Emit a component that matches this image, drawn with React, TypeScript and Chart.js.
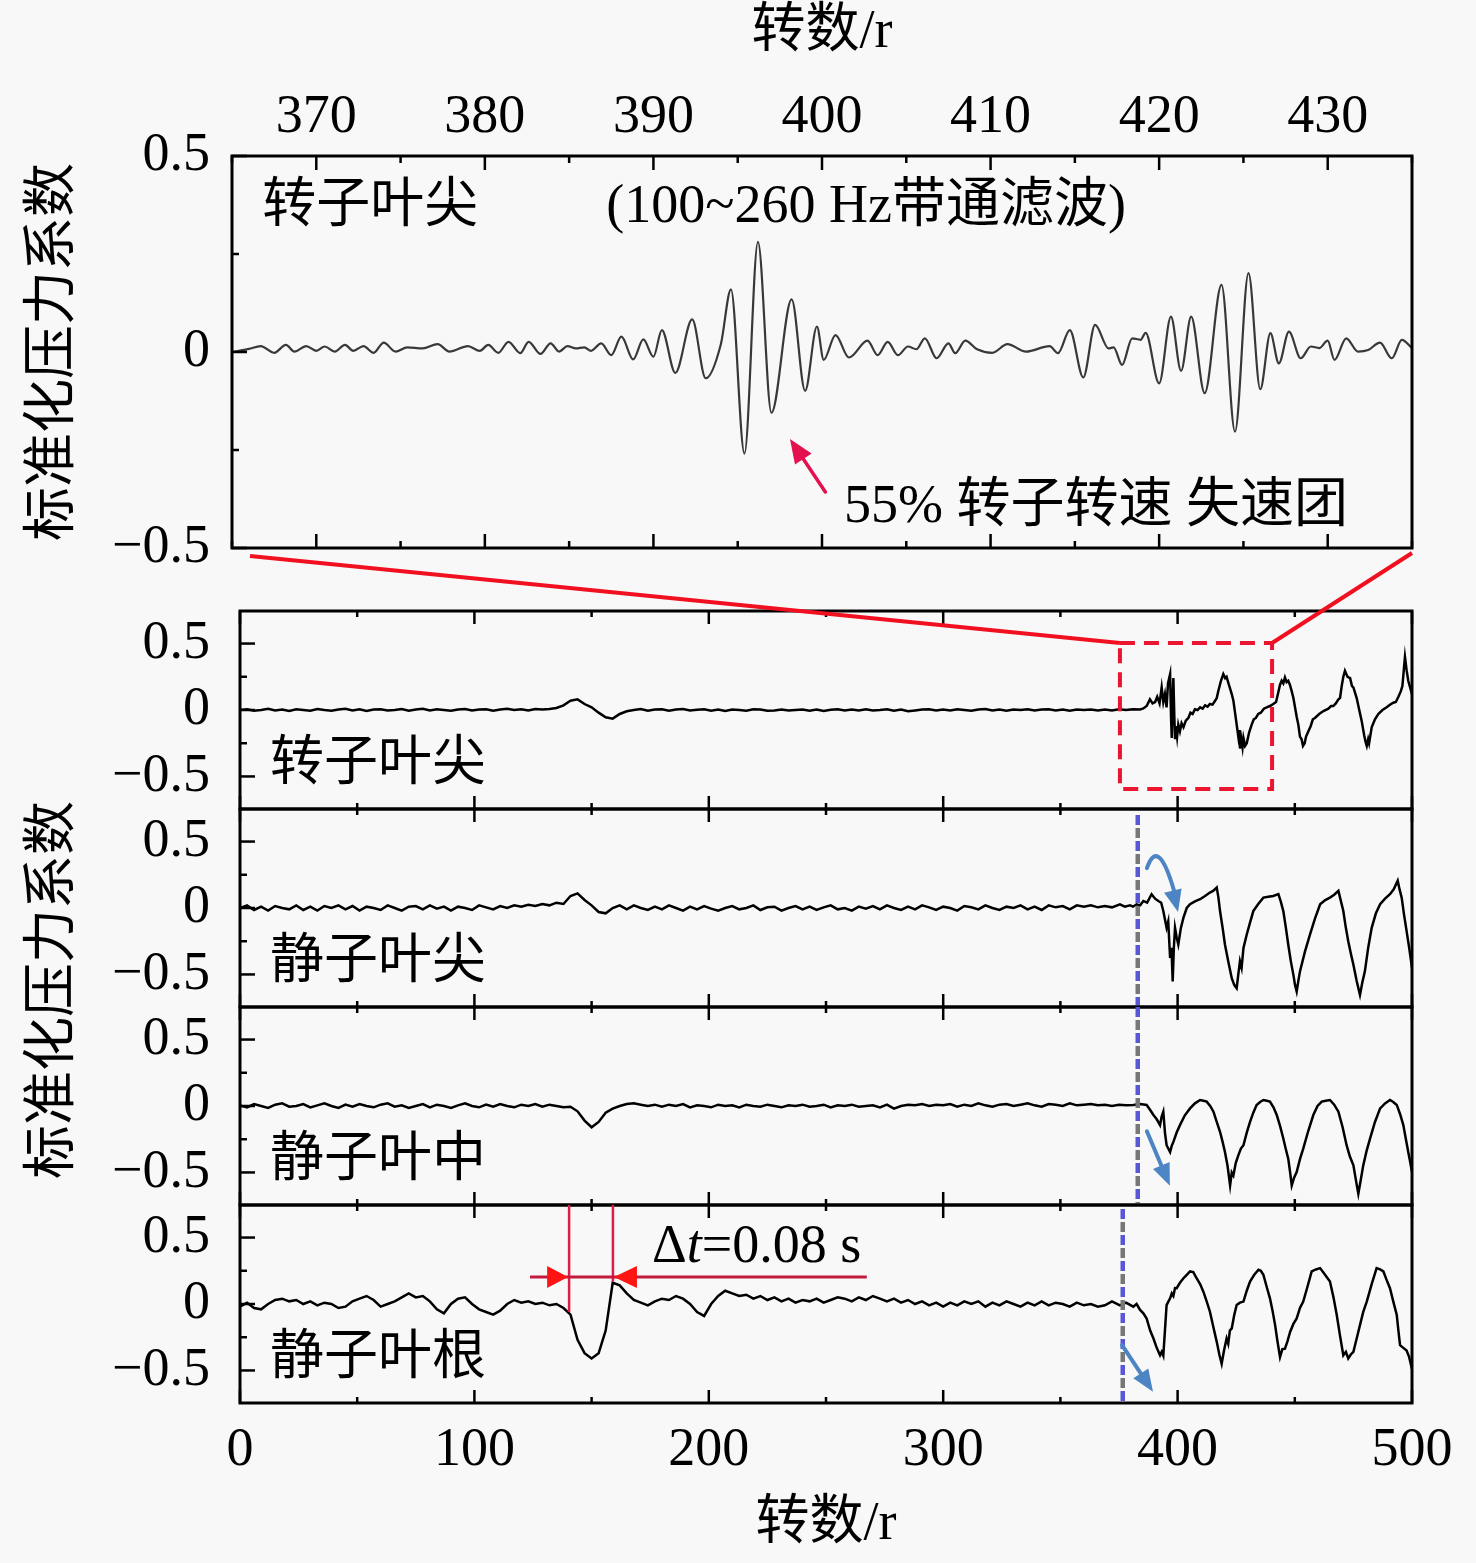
import React, { useEffect, useRef } from 'react';
import { Chart, registerables } from 'chart.js';

Chart.register(...registerables);

const FONT = '"Liberation Serif", "Noto Sans CJK SC", serif';
const FS = 54;
const BG = '#f8f8f8';

// ---------- axis ticks ----------
const TOP_X_TICKS = [370, 380, 390, 400, 410, 420, 430];
const TOP_X_MINOR = [365, 375, 385, 395, 405, 415, 425, 435];
const Y_TICKS = [-0.5, 0, 0.5];
const Y_MINOR = [-0.25, 0.25];
const BOT_X_TICKS = [0, 100, 200, 300, 400, 500];
const BOT_X_MINOR = [50, 150, 250, 350, 450];

// ---------- labels ----------
const AXIS_TITLE_X = '转数/r';
const AXIS_TITLE_Y = '标准化压力系数';
const PANEL_LABELS = ['转子叶尖', '静子叶尖', '静子叶中', '静子叶根'];
const TOP_NOTE_LEFT = '转子叶尖';
const TOP_NOTE_FILTER = '(100~260 Hz带通滤波)';
const TOP_NOTE_STALL = '55% 转子转速 失速团';

// ---------- top panel: 100~260 Hz band-pass filtered rotor-tip signal (x = revolutions) ----------
const TOP_CURVE: [number, number][] = [
  [365.0, 0.0], [366.0, 0.008], [366.7, 0.015], [367.5, -0.002], [368.2, 0.018], [368.7, 0.001],
  [369.4, 0.015], [370.0, 0.003], [370.5, 0.014], [371.1, 0.001], [371.7, 0.018], [372.2, 0.003],
  [372.8, 0.015], [373.4, -0.002], [374.0, 0.024], [374.7, 0.001], [375.4, 0.012], [376.3, 0.009],
  [377.2, 0.02], [377.9, 0.001], [379.0, 0.015], [379.7, 0.003], [380.2, 0.018], [380.8, -0.002],
  [381.4, 0.026], [382.1, -0.003], [382.6, 0.026], [383.3, -0.005], [383.9, 0.022], [384.4, 0.001],
  [384.9, 0.015], [385.4, 0.009], [385.9, 0.012], [386.3, 0.003], [386.9, 0.022], [387.5, -0.008],
  [388.1, 0.039], [388.8, -0.019], [389.4, 0.032], [390.0, -0.012], [390.5, 0.056], [391.3, -0.053],
  [392.3, 0.083], [393.1, -0.067], [394.0, 0.02], [394.6, 0.16], [395.4, -0.259], [396.2, 0.281],
  [397.0, -0.155], [398.2, 0.134], [399.0, -0.099], [399.7, 0.065], [400.1, -0.02], [400.8, 0.043],
  [401.6, -0.014], [402.7, 0.029], [403.3, -0.008], [403.9, 0.026], [404.5, -0.008], [405.1, 0.014],
  [405.6, 0.007], [406.1, 0.035], [406.8, -0.016], [407.5, 0.022], [407.9, -0.003], [408.5, 0.029],
  [409.2, 0.007], [410.1, -0.002], [411.0, 0.02], [412.1, 0.001], [413.5, 0.015], [414.0, -0.003],
  [414.7, 0.056], [415.5, -0.065], [416.2, 0.069], [417.0, 0.009], [417.3, 0.012], [417.8, -0.033],
  [418.4, 0.035], [418.9, 0.031], [419.2, 0.049], [420.0, -0.08], [420.7, 0.09], [421.3, -0.048],
  [421.9, 0.09], [422.7, -0.105], [423.7, 0.171], [424.5, -0.203], [425.3, 0.201], [426.0, -0.095],
  [426.6, 0.048], [427.1, -0.029], [427.7, 0.052], [428.4, -0.016], [429.0, 0.014], [429.5, 0.01],
  [430.0, 0.029], [430.4, -0.02], [431.1, 0.035], [431.8, 0.001], [432.4, 0.005], [433.1, 0.024],
  [433.8, -0.016], [434.4, 0.031], [435.0, 0.01],
];

// ---------- bottom panels: pre-stall part sampled every FLAT_STEP revolutions from 0 ----------
const FLAT_STEP = 3;

const ROTOR_TIP_FLAT = [
  0.0, 0.006, -0.006, 0.0, 0.01, -0.004, 0.003, -0.008, 0.005, 0.0,
  -0.005, 0.008, 0.0, -0.006, 0.004, 0.01, -0.003, 0.005, -0.008, 0.003,
  0.006, -0.004, 0.0, 0.008, -0.005, 0.004, 0.009, -0.003, 0.005, 0.0,
  -0.006, 0.004, 0.008, -0.004, 0.003, 0.006, -0.005, 0.004, 0.01, 0.0,
  0.005, -0.004, 0.007, 0.003, 0.008, 0.015, 0.035, 0.07, 0.08, 0.045,
  0.02, -0.02, -0.055, -0.065, -0.03, -0.01, 0.0, 0.007, -0.005, 0.004,
  0.005, -0.006, 0.003, 0.008, -0.004, 0.002, 0.006, -0.005, 0.003, -0.008,
  0.004, 0.0, -0.005, 0.005, 0.003, -0.006, -0.003, 0.004, -0.004, 0.0,
  0.003, -0.005, 0.004, -0.008, 0.002, 0.005, -0.004, 0.003, -0.003, 0.005,
  -0.004, 0.0, 0.006, -0.005, 0.003, -0.01, -0.004, 0.003, 0.005, -0.004,
  0.004, -0.003, 0.006, 0.0, -0.005, 0.004, 0.008, -0.003, 0.003, -0.005,
  0.004, 0.0, 0.005, -0.004, 0.003, 0.006, -0.003, 0.004, -0.005, 0.003,
  0.0, 0.004, -0.003,
];
const ROTOR_TIP_STALL: [number, number][] = [
  [369, 0.004], [372, -0.003], [375, 0.005], [378, 0.0], [381, 0.006], [384, 0.004], [385.4, 0.012],
  [386.8, 0.03], [388.2, 0.08], [389.3, 0.05], [390.4, 0.06], [391.3, 0.1], [392.3, 0.05], [393.2, 0.17],
  [393.9, 0.06], [394.6, 0.12], [395.3, 0.02], [395.9, 0.2], [396.8, 0.27], [397.2, -0.05], [397.5, -0.21],
  [397.9, 0.1], [398.2, 0.24], [398.6, -0.05], [398.9, -0.21], [399.3, -0.12], [399.8, -0.2], [400.3, -0.11],
  [401, -0.16], [401.7, -0.1], [402.5, -0.13], [403.5, -0.08], [404.6, -0.06], [405.5, -0.02], [406.4, -0.03],
  [407.4, 0.005], [408.5, 0.0], [409.6, 0.02], [410.7, 0.01], [411.7, 0.035], [412.8, 0.025], [413.8, 0.045],
  [414.9, 0.04], [416, 0.07], [416.7, 0.09], [417.4, 0.145], [418.5, 0.22], [419.5, 0.27], [420.3, 0.24],
  [420.9, 0.25], [421.7, 0.2], [422.4, 0.16], [423.1, 0.12], [423.8, 0.07], [424.5, -0.02], [425.2, -0.11],
  [425.9, -0.2], [426.3, -0.15], [426.6, -0.29], [427.2, -0.22], [427.7, -0.28], [428.1, -0.21], [428.8, -0.27],
  [429.5, -0.25], [430.5, -0.17], [431.6, -0.11], [432.5, -0.07], [433.4, -0.06], [434.4, -0.03], [435.5, -0.02],
  [436.8, 0.01], [438, 0.02], [439.4, 0.03], [440.8, 0.045], [442, 0.06], [442.8, 0.12], [443.7, 0.19],
  [444.4, 0.22], [445.1, 0.2], [445.8, 0.245], [446.5, 0.21], [447.2, 0.22], [447.9, 0.19], [448.7, 0.14],
  [449.4, 0.09], [450.1, 0.02], [450.8, -0.05], [451.5, -0.11], [452.2, -0.2], [452.9, -0.22], [453.5, -0.27],
  [454.2, -0.25], [454.8, -0.2], [455.8, -0.16], [456.8, -0.12], [457.7, -0.07], [458.6, -0.06], [460.4, -0.03],
  [462.2, -0.008], [464.3, 0.01], [465.5, 0.03], [466.4, 0.03], [467.5, 0.05], [468.6, 0.08], [469.3, 0.09],
  [470, 0.18], [470.7, 0.25], [471.4, 0.295], [472, 0.27], [472.5, 0.25], [473.6, 0.24], [474.4, 0.18],
  [475, 0.17], [476.4, 0.09], [477.5, 0.0], [478.5, -0.08], [479.6, -0.19], [480.2, -0.24], [480.7, -0.27],
  [481.3, -0.22], [481.7, -0.25], [482.8, -0.13], [484.2, -0.07], [485.6, -0.03], [487.4, 0.0], [489.2, 0.02],
  [490.6, 0.04], [492, 0.055], [493.1, 0.06], [494.2, 0.1], [495.2, 0.14], [495.9, 0.18], [496.5, 0.3],
  [497, 0.4], [497.7, 0.3], [498.4, 0.22], [499.2, 0.17], [500, 0.12],
];

const STATOR_TIP_FLAT = [
  0.0, 0.02, -0.015, 0.01, -0.02, 0.015, 0.0, -0.01, 0.02, -0.015,
  0.01, -0.02, 0.015, 0.0, 0.02, -0.01, 0.015, -0.02, 0.01, 0.0,
  -0.015, 0.02, 0.0, -0.02, 0.01, 0.015, -0.01, 0.02, -0.005, 0.01,
  -0.02, 0.01, 0.0, -0.015, 0.02, 0.005, -0.01, 0.015, 0.0, 0.02,
  0.01, 0.025, 0.015, 0.03, 0.02, 0.04, 0.03, 0.09, 0.11, 0.06,
  0.02, -0.03, -0.04, 0.0, 0.02, -0.01, 0.02, 0.0, -0.015, 0.01,
  -0.01, 0.02, 0.0, -0.02, 0.01, -0.01, 0.015, -0.005, -0.02, 0.0,
  0.015, -0.01, 0.0, 0.02, -0.015, 0.005, 0.01, -0.02, 0.0, 0.015,
  -0.01, 0.01, -0.015, 0.005, 0.02, -0.01, 0.0, -0.02, 0.01, -0.005,
  0.015, -0.01, 0.02, 0.0, -0.015, 0.01, -0.01, 0.02, 0.005, -0.015,
  0.01, 0.0, -0.02, 0.015, 0.005, -0.01, 0.02, 0.0, -0.015, 0.01,
  0.0, 0.02, -0.01, 0.01, -0.015, 0.02, 0.005, 0.015, -0.01, 0.02,
  0.01, 0.02, 0.005,
];
const STATOR_TIP_STALL: [number, number][] = [
  [369, 0.015], [372, 0.005], [375.4, 0.028], [377.5, 0.01], [379.7, 0.02], [381, 0.01], [382.5, 0.028],
  [384, 0.02], [385.4, 0.053], [387, 0.04], [388.9, 0.104], [390.4, 0.07], [391.8, 0.053], [393, 0.04],
  [393.9, -0.023], [395.3, -0.149], [396, -0.1], [396.8, -0.376], [397.4, -0.3], [397.9, -0.553], [398.4, -0.3],
  [398.9, -0.149], [399.6, -0.22], [400.3, -0.275], [401.4, -0.15], [402.5, -0.073], [403.9, 0.0], [405.3, 0.028],
  [407.4, 0.05], [409.6, 0.066], [411.7, 0.09], [413.8, 0.116], [415.3, 0.13], [416.7, 0.154], [417.4, 0.08],
  [418.1, -0.023], [419.2, -0.15], [420.2, -0.275], [421.6, -0.4], [423.1, -0.528], [424.2, -0.58], [425.2, -0.604],
  [425.9, -0.5], [426.6, -0.401], [427.3, -0.45], [428.1, -0.3], [429.5, -0.199], [430.9, -0.11], [432.3, -0.023],
  [434.4, 0.03], [436.6, 0.078], [438.7, 0.085], [440.8, 0.091], [443, 0.104], [444, 0.05], [445.1, -0.023],
  [446.2, -0.15], [447.2, -0.275], [448.3, -0.4], [449.4, -0.503], [450.1, -0.58], [450.8, -0.629], [451.5, -0.55],
  [452.2, -0.477], [454.3, -0.33], [456.5, -0.199], [458.6, -0.08], [460.8, 0.028], [463, 0.06], [465, 0.078],
  [466.8, 0.1], [468.6, 0.129], [469.7, 0.05], [470.7, -0.023], [471.7, -0.14], [472.8, -0.25], [474, -0.35],
  [475, -0.427], [476.4, -0.55], [477.8, -0.654], [478.8, -0.56], [479.9, -0.477], [481.3, -0.3], [482.8, -0.149],
  [484.6, -0.04], [486.4, 0.028], [488.5, 0.07], [490.6, 0.104], [492.2, 0.14], [493.9, 0.205], [494.7, 0.14],
  [495.6, 0.078], [496.6, -0.05], [497.7, -0.174], [498.8, -0.3], [500, -0.45],
];

const STATOR_MID_FLAT = [
  0.005, -0.01, 0.015, 0.0, -0.015, 0.01, 0.02, -0.005, 0.0, 0.015,
  -0.01, 0.005, 0.02, 0.0, -0.015, 0.01, -0.005, 0.015, 0.0, -0.01,
  0.01, 0.02, -0.005, 0.005, -0.015, 0.0, 0.015, -0.01, 0.01, 0.0,
  -0.015, 0.005, 0.02, 0.0, -0.01, 0.01, -0.005, 0.015, 0.0, -0.01,
  0.01, 0.0, 0.015, -0.005, 0.01, 0.0, -0.01, -0.005, -0.04, -0.11,
  -0.16, -0.12, -0.05, -0.02, 0.0, 0.015, 0.02, 0.01, 0.0, 0.01,
  -0.005, 0.01, 0.0, 0.015, -0.01, 0.005, 0.0, -0.01, 0.01, 0.0,
  0.005, -0.01, 0.01, 0.0, -0.005, 0.01, 0.0, -0.01, 0.005, 0.0,
  0.01, -0.005, 0.0, 0.01, -0.01, 0.005, 0.0, 0.01, -0.005, 0.0,
  0.005, -0.01, 0.01, -0.02, 0.0, 0.01, 0.005, 0.015, 0.0, 0.01,
  0.005, 0.015, -0.005, 0.01, 0.0, 0.02, 0.005, -0.005, 0.01, 0.015,
  0.0, 0.01, 0.02, 0.005, -0.005, 0.015, 0.01, 0.0, 0.02, 0.005,
  0.01, 0.015, 0.005,
];
const STATOR_MID_STALL: [number, number][] = [
  [369, 0.01], [372, 0.0], [375, 0.01], [378, 0.005], [381.1, 0.008], [384, 0.015], [386.8, 0.008],
  [388.3, -0.03], [389.7, -0.068], [391.1, -0.1], [392.5, -0.144], [393.2, -0.08], [393.9, -0.043], [394.6, -0.2],
  [395.3, -0.295], [396.8, -0.346], [397.5, -0.3], [398.2, -0.27], [399.6, -0.2], [401, -0.144], [403.1, -0.07],
  [405.3, -0.018], [407.4, 0.02], [409.6, 0.045], [411, 0.04], [412.4, 0.033], [413.9, 0.0], [415.3, -0.043],
  [416.7, -0.12], [418.1, -0.194], [419.2, -0.27], [420.2, -0.346], [421.3, -0.45], [422.4, -0.598], [423.1, -0.5],
  [423.8, -0.523], [424.8, -0.43], [425.9, -0.371], [427, -0.32], [428.1, -0.295], [429.5, -0.2], [430.9, -0.119],
  [432.3, -0.05], [433.7, 0.008], [435.2, 0.03], [436.6, 0.045], [438, 0.04], [439.4, 0.033], [440.9, -0.01],
  [442.3, -0.068], [443.7, -0.15], [445.1, -0.245], [446.1, -0.32], [447.2, -0.396], [448, -0.5], [448.7, -0.598],
  [449.7, -0.54], [450.8, -0.497], [452.2, -0.4], [453.6, -0.321], [455.7, -0.19], [457.9, -0.068], [459.7, 0.0],
  [461.5, 0.033], [463.2, 0.04], [465, 0.045], [466.8, 0.01], [468.6, -0.043], [470.4, -0.16], [472.1, -0.295],
  [473.5, -0.38], [475, -0.447], [476, -0.55], [477.1, -0.66], [478.1, -0.56], [479.2, -0.447], [480.6, -0.34],
  [482.1, -0.245], [484.2, -0.12], [486.4, -0.018], [488.5, 0.02], [490.6, 0.045], [492, 0.03], [493.5, 0.008],
  [494.9, -0.06], [496.3, -0.144], [497.4, -0.25], [498.4, -0.346], [499.2, -0.42], [500, -0.497],
];

const STATOR_ROOT_FLAT = [
  -0.02, 0.01, -0.03, -0.04, 0.0, 0.03, 0.04, 0.02, 0.03, 0.0,
  0.02, -0.01, 0.01, 0.0, -0.03, -0.02, 0.02, 0.04, 0.06, 0.03,
  -0.02, 0.0, 0.02, 0.05, 0.08, 0.05, 0.06, 0.02, -0.04, -0.07,
  0.0, 0.04, 0.05, 0.0, -0.04, -0.06, -0.08, -0.05, 0.0, 0.03,
  0.01, 0.02, 0.0, 0.01, -0.01, 0.0, -0.03, -0.08, -0.27, -0.37,
  -0.41, -0.37, -0.2, 0.16, 0.14, 0.08, 0.03, 0.01, -0.01, 0.02,
  0.04, 0.03, 0.06, 0.04, 0.0, -0.06, -0.09, 0.0, 0.06, 0.1,
  0.08, 0.06, 0.07, 0.04, 0.06, 0.03, 0.05, 0.02, 0.04, 0.01,
  0.03, 0.02, 0.04, 0.01, 0.03, 0.05, 0.04, 0.02, 0.05, 0.03,
  0.06, 0.04, 0.02, 0.04, 0.01, 0.03, 0.0, 0.02, -0.01, 0.01,
  -0.02, 0.01, -0.01, 0.02, 0.0, 0.02, -0.02, 0.01, -0.01, 0.02,
  0.0, -0.02, 0.01, -0.01, 0.02, -0.01, 0.01, 0.0, -0.02, 0.01,
  -0.01, 0.0, -0.02,
];
const STATOR_ROOT_STALL: [number, number][] = [
  [369, -0.01], [372, 0.02], [375.4, -0.01], [378, 0.01], [381.1, -0.02], [382.5, 0.0], [384, -0.045],
  [385.4, -0.07], [386.8, -0.11], [388.3, -0.2], [389.7, -0.26], [391.1, -0.33], [392.5, -0.386], [393.2, -0.36],
  [393.9, -0.39], [394.6, -0.2], [395.3, -0.008], [396.1, 0.02], [396.8, 0.043], [397.5, 0.08], [398.2, 0.06],
  [398.9, 0.12], [399.6, 0.119], [401, 0.16], [402.5, 0.194], [403.9, 0.22], [405.3, 0.245], [406.7, 0.24],
  [408.1, 0.194], [409.6, 0.15], [411, 0.093], [412.4, 0.02], [413.8, -0.058], [415.2, -0.17], [416.7, -0.285],
  [417.8, -0.38], [418.8, -0.45], [419.8, -0.35], [420.9, -0.26], [421.6, -0.3], [422.3, -0.2], [423.1, -0.184],
  [424.2, -0.08], [425.2, -0.008], [426.6, 0.01], [428.1, 0.018], [429.5, 0.1], [430.9, 0.169], [432.7, 0.22],
  [434.5, 0.258], [435.5, 0.25], [436.6, 0.22], [438, 0.13], [439.4, 0.043], [440.5, -0.05], [441.6, -0.159],
  [442.6, -0.28], [443.7, -0.4], [444.7, -0.34], [445.8, -0.336], [446.9, -0.28], [448, -0.21], [449.4, -0.15],
  [450.8, -0.109], [452.2, -0.03], [453.6, 0.018], [455.4, 0.13], [457.2, 0.245], [459, 0.26], [460.8, 0.27],
  [462.9, 0.22], [465, 0.169], [466.5, 0.05], [467.9, -0.083], [469.3, -0.24], [470.7, -0.386], [471.8, -0.36],
  [472.8, -0.41], [473.9, -0.38], [475, -0.36], [476.4, -0.26], [477.8, -0.159], [479.2, -0.06], [480.7, 0.018],
  [482.8, 0.15], [484.9, 0.27], [486.4, 0.26], [487.8, 0.245], [489.2, 0.18], [490.6, 0.119], [492, 0.02],
  [493.5, -0.083], [494.2, -0.2], [494.9, -0.31], [496.3, -0.33], [497.7, -0.35], [498.8, -0.4], [500, -0.49],
];

// ---------- annotation anchors (data coordinates) ----------
const ZOOM_WINDOW_X = [375.4, 440.3];
const ZOOM_WINDOW_Y = [-0.595, 0.504];
const STALL_LINE_MID = 383.0;
const STALL_LINE_ROOT = 376.6;
const DT_LINES = [140.4, 159.1];

// ---------- layout ----------
const W = 1476;
const H = 1563;
const TOP_BOX = { top: 0, height: 570 };
const PANEL_BOXES = [
  { top: 598, height: 224 },
  { top: 796, height: 224 },
  { top: 994, height: 224 },
  { top: 1192, height: 371 },
];

function buildPoints(flat: number[], stall: [number, number][]) {
  return [
    ...flat.map((y, i) => ({ x: i * FLAT_STEP, y })),
    ...stall.map(([x, y]) => ({ x, y })),
  ];
}

const fmtY = (v: number) => (v === 0 ? '0' : v < 0 ? '\u2212' + Math.abs(v) : String(v));

const noPad = (s: any) => {
  s.paddingTop = 0;
  s.paddingBottom = 0;
  s.paddingLeft = 0;
  s.paddingRight = 0;
};

function drawArrowHead(ctx: CanvasRenderingContext2D, x: number, y: number, angle: number, len: number, width: number, color: string) {
  ctx.save();
  ctx.translate(x, y);
  ctx.rotate(angle);
  ctx.beginPath();
  ctx.moveTo(0, 0);
  ctx.lineTo(-len, width / 2);
  ctx.lineTo(-len, -width / 2);
  ctx.closePath();
  ctx.fillStyle = color;
  ctx.fill();
  ctx.restore();
}

function straightArrow(ctx: CanvasRenderingContext2D, x1: number, y1: number, x2: number, y2: number, color: string, lw: number, hl: number, hw: number) {
  const ang = Math.atan2(y2 - y1, x2 - x1);
  ctx.save();
  ctx.strokeStyle = color;
  ctx.lineWidth = lw;
  ctx.lineCap = 'round';
  ctx.beginPath();
  ctx.moveTo(x1, y1);
  ctx.lineTo(x2 - Math.cos(ang) * hl * 0.8, y2 - Math.sin(ang) * hl * 0.8);
  ctx.stroke();
  ctx.restore();
  drawArrowHead(ctx, x2, y2, ang, hl, hw, color);
}

function frameTicks(xMajor: number[], xMinor: number[], xMajLen: number, xMinLen: number) {
  return {
    id: 'frameTicks',
    afterDatasetsDraw(chart: any) {
      const { ctx, chartArea: a, scales } = chart;
      const xs = scales.x;
      const ys = scales.y;
      ctx.save();
      ctx.strokeStyle = '#000';
      ctx.lineWidth = 2.5;
      const seg = (x1: number, y1: number, x2: number, y2: number) => {
        ctx.beginPath();
        ctx.moveTo(x1, y1);
        ctx.lineTo(x2, y2);
        ctx.stroke();
      };
      xMajor.forEach((v) => {
        const p = xs.getPixelForValue(v);
        seg(p, a.top, p, a.top + xMajLen);
        seg(p, a.bottom, p, a.bottom - xMajLen);
      });
      xMinor.forEach((v) => {
        const p = xs.getPixelForValue(v);
        seg(p, a.top, p, a.top + xMinLen);
        seg(p, a.bottom, p, a.bottom - xMinLen);
      });
      Y_TICKS.forEach((v) => {
        const p = ys.getPixelForValue(v);
        seg(a.left, p, a.left + 15, p);
      });
      Y_MINOR.forEach((v) => {
        const p = ys.getPixelForValue(v);
        seg(a.left, p, a.left + 7, p);
      });
      ctx.lineWidth = 3;
      ctx.strokeRect(a.left, a.top, a.right - a.left, a.bottom - a.top);
      ctx.restore();
    },
  };
}

function dashedStall(ctx: CanvasRenderingContext2D, x: number, y1: number, y2: number) {
  ctx.save();
  ctx.lineWidth = 4.5;
  ctx.setLineDash([10, 16]);
  ctx.strokeStyle = '#5858d6';
  ctx.beginPath();
  ctx.moveTo(x, y1);
  ctx.lineTo(x, y2);
  ctx.stroke();
  ctx.lineDashOffset = 13;
  ctx.strokeStyle = '#777777';
  ctx.beginPath();
  ctx.moveTo(x, y1);
  ctx.lineTo(x, y2);
  ctx.stroke();
  ctx.restore();
}

const ARROW_BLUE = '#4d84c4';

export default function App() {
  const topRef = useRef<HTMLCanvasElement>(null);
  const p1Ref = useRef<HTMLCanvasElement>(null);
  const p2Ref = useRef<HTMLCanvasElement>(null);
  const p3Ref = useRef<HTMLCanvasElement>(null);
  const p4Ref = useRef<HTMLCanvasElement>(null);
  const ovRef = useRef<HTMLCanvasElement>(null);

  useEffect(() => {
    const charts: Chart[] = [];
    const font = { family: FONT, size: FS };

    const yScale = (width: number, pad: number, min: number, max: number, title: boolean) => ({
      type: 'linear',
      position: 'left',
      min,
      max,
      afterBuildTicks: (s: any) => {
        s.ticks = Y_TICKS.map((v) => ({ value: v }));
      },
      afterFit: (s: any) => {
        s.width = width;
        noPad(s);
      },
      grid: { display: false, drawTicks: false },
      border: { display: false },
      ticks: { font, color: '#000', padding: pad, callback: (v: any) => fmtY(Number(v)) },
      title: {
        display: title,
        text: AXIS_TITLE_Y,
        font,
        color: '#000',
        padding: { top: 22, bottom: 0 },
      },
    });

    const baseOpts = (padding: any, scales: any) => ({
      animation: false,
      responsive: false,
      events: [],
      layout: { padding, autoPadding: false },
      plugins: { legend: { display: false }, tooltip: { enabled: false } },
      elements: { point: { radius: 0 } },
      scales,
    });

    // ---------- top panel ----------
    const topPlugin = {
      id: 'topDeco',
      afterDatasetsDraw(chart: any) {
        const { ctx, scales } = chart;
        const xs = scales.x;
        const ys = scales.y;
        ctx.save();
        ctx.font = `${FS}px ${FONT}`;
        ctx.fillStyle = '#000';
        ctx.textBaseline = 'middle';
        ctx.textAlign = 'left';
        ctx.fillText(TOP_NOTE_LEFT, xs.getPixelForValue(366.8), ys.getPixelForValue(0.367));
        ctx.fillText(TOP_NOTE_FILTER, xs.getPixelForValue(387.2), ys.getPixelForValue(0.367));
        ctx.fillText(TOP_NOTE_STALL, xs.getPixelForValue(401.3), ys.getPixelForValue(-0.398));
        straightArrow(
          ctx,
          xs.getPixelForValue(400.2), ys.getPixelForValue(-0.357),
          xs.getPixelForValue(398.1), ys.getPixelForValue(-0.222),
          '#e3124f', 3.5, 24, 20,
        );
        ctx.restore();
      },
    };
    charts.push(
      new Chart(topRef.current!, {
        type: 'line',
        data: {
          datasets: [
            {
              data: TOP_CURVE.map(([x, y]) => ({ x, y })),
              borderColor: '#383838',
              borderWidth: 2.2,
              pointRadius: 0,
              fill: false,
              tension: 0.4,
              cubicInterpolationMode: 'monotone',
            },
          ],
        },
        options: baseOpts(
          { left: 0, right: W - 1412, top: 0, bottom: TOP_BOX.height - 548 },
          {
            x: {
              type: 'linear',
              position: 'top',
              min: 365,
              max: 435,
              afterBuildTicks: (s: any) => {
                s.ticks = TOP_X_TICKS.map((v) => ({ value: v }));
              },
              afterFit: (s: any) => {
                s.height = 156;
                noPad(s);
              },
              grid: { display: false, drawTicks: false },
              border: { display: false },
              ticks: { font, color: '#000', padding: 6, maxRotation: 0, autoSkip: false },
              title: { display: true, text: AXIS_TITLE_X, font, color: '#000', padding: { top: 0, bottom: 0 } },
            },
            y: yScale(232, 22, -0.5, 0.5, true),
          },
        ) as any,
        plugins: [frameTicks(TOP_X_TICKS, TOP_X_MINOR, 14, 7), topPlugin],
      }),
    );

    // ---------- bottom panels ----------
    const series = [
      buildPoints(ROTOR_TIP_FLAT, ROTOR_TIP_STALL),
      buildPoints(STATOR_TIP_FLAT, STATOR_TIP_STALL),
      buildPoints(STATOR_MID_FLAT, STATOR_MID_STALL),
      buildPoints(STATOR_ROOT_FLAT, STATOR_ROOT_STALL),
    ];
    const refs = [p1Ref, p2Ref, p3Ref, p4Ref];

    series.forEach((pts, i) => {
      const isLast = i === 3;
      const box = PANEL_BOXES[i];
      const deco = {
        id: 'panelDeco' + i,
        afterDatasetsDraw(chart: any) {
          const { ctx, scales, chartArea: a } = chart;
          const xs = scales.x;
          const ys = scales.y;
          ctx.save();
          ctx.font = `${FS}px ${FONT}`;
          ctx.fillStyle = '#000';
          ctx.textBaseline = 'middle';
          ctx.textAlign = 'left';
          ctx.fillText(PANEL_LABELS[i], xs.getPixelForValue(12.8), ys.getPixelForValue(-0.42));

          if (i === 0) {
            const x1 = xs.getPixelForValue(ZOOM_WINDOW_X[0]);
            const x2 = xs.getPixelForValue(ZOOM_WINDOW_X[1]);
            const y1 = ys.getPixelForValue(ZOOM_WINDOW_Y[1]);
            const y2 = ys.getPixelForValue(ZOOM_WINDOW_Y[0]);
            ctx.strokeStyle = '#ec1530';
            ctx.lineWidth = 4;
            ctx.setLineDash([15, 9]);
            ctx.strokeRect(x1, y1, x2 - x1, y2 - y1);
            ctx.setLineDash([]);
          }
          if (i === 1 || i === 2) {
            const xp = xs.getPixelForValue(STALL_LINE_MID);
            dashedStall(ctx, xp, i === 1 ? ys.getPixelForValue(0.7) : a.top, a.bottom);
          }
          if (i === 3) {
            const xp = xs.getPixelForValue(STALL_LINE_ROOT);
            dashedStall(ctx, xp, a.top + 4, a.bottom);
          }
          if (i === 1) {
            const sx = xs.getPixelForValue(386.9), sy = ys.getPixelForValue(0.3);
            const cx = xs.getPixelForValue(392.0), cy = ys.getPixelForValue(0.56);
            const ex = xs.getPixelForValue(400.2), ey = ys.getPixelForValue(-0.03);
            ctx.strokeStyle = ARROW_BLUE;
            ctx.lineWidth = 4;
            ctx.lineCap = 'round';
            ctx.beginPath();
            ctx.moveTo(sx, sy);
            ctx.quadraticCurveTo(cx, cy, ex - 2, ey - 14);
            ctx.stroke();
            drawArrowHead(ctx, ex, ey, Math.atan2(ey - cy, ex - cx), 22, 18, ARROW_BLUE);
          }
          if (i === 2) {
            straightArrow(
              ctx,
              xs.getPixelForValue(386.9), ys.getPixelForValue(-0.19),
              xs.getPixelForValue(396.7), ys.getPixelForValue(-0.6),
              ARROW_BLUE, 4, 22, 18,
            );
          }
          if (i === 3) {
            straightArrow(
              ctx,
              xs.getPixelForValue(376.3), ys.getPixelForValue(-0.31),
              xs.getPixelForValue(389.5), ys.getPixelForValue(-0.66),
              ARROW_BLUE, 4, 22, 18,
            );
            const lx = xs.getPixelForValue(DT_LINES[0]);
            const rx = xs.getPixelForValue(DT_LINES[1]);
            const hy = ys.getPixelForValue(0.203);
            ctx.strokeStyle = '#dc1f4a';
            ctx.lineWidth = 2.5;
            ctx.beginPath();
            ctx.moveTo(lx, a.top);
            ctx.lineTo(lx, ys.getPixelForValue(-0.06));
            ctx.moveTo(rx, a.top);
            ctx.lineTo(rx, ys.getPixelForValue(0.17));
            ctx.stroke();
            ctx.strokeStyle = '#c41a3e';
            ctx.lineWidth = 3;
            ctx.beginPath();
            ctx.moveTo(xs.getPixelForValue(123.7), hy);
            ctx.lineTo(xs.getPixelForValue(267.4), hy);
            ctx.stroke();
            drawArrowHead(ctx, lx - 1, hy, 0, 21, 22, '#ff1414');
            drawArrowHead(ctx, rx + 1, hy, Math.PI, 23, 22, '#ff1414');
            let tx = xs.getPixelForValue(175.8);
            const ty = ys.getPixelForValue(0.42);
            ctx.fillStyle = '#000';
            ctx.font = `${FS}px ${FONT}`;
            ctx.fillText('\u0394', tx, ty);
            tx += ctx.measureText('\u0394').width;
            ctx.font = `italic ${FS}px ${FONT}`;
            ctx.fillText('t', tx, ty);
            tx += ctx.measureText('t').width;
            ctx.font = `${FS}px ${FONT}`;
            ctx.fillText('=0.08 s', tx, ty);
          }
          ctx.restore();
        },
      };

      const xScale: any = {
        type: 'linear',
        position: 'bottom',
        min: 0,
        max: 500,
        display: isLast,
        afterBuildTicks: (s: any) => {
          s.ticks = BOT_X_TICKS.map((v) => ({ value: v }));
        },
        afterFit: (s: any) => {
          if (isLast) s.height = box.height - 13 - 198;
          noPad(s);
        },
        grid: { display: false, drawTicks: false },
        border: { display: false },
        ticks: { font, color: '#000', padding: 15, maxRotation: 0, autoSkip: false },
        title: { display: isLast, text: AXIS_TITLE_X, font, color: '#000', padding: { top: 0, bottom: 6 } },
      };

      charts.push(
        new Chart(refs[i].current!, {
          type: 'line',
          data: {
            datasets: [
              {
                data: pts,
                borderColor: '#000',
                borderWidth: 2.5,
                pointRadius: 0,
                fill: false,
                tension: 0,
              },
            ],
          },
          options: baseOpts(
            { left: 0, right: W - 1412, top: 13, bottom: isLast ? 0 : 13 },
            { x: xScale, y: yScale(240, 30, -0.745, 0.745, false) },
          ) as any,
          plugins: [frameTicks(BOT_X_TICKS, BOT_X_MINOR, 13, 6), deco],
        }),
      );
    });

    // ---------- overlay: zoom connectors + second y title ----------
    const ov = ovRef.current!;
    const ctx = ov.getContext('2d')!;
    ctx.clearRect(0, 0, W, H);
    const topArea = charts[0].chartArea;
    const p1 = charts[1] as any;
    const zx1 = p1.scales.x.getPixelForValue(ZOOM_WINDOW_X[0]);
    const zx2 = p1.scales.x.getPixelForValue(ZOOM_WINDOW_X[1]);
    const zy = p1.scales.y.getPixelForValue(ZOOM_WINDOW_Y[1]) + PANEL_BOXES[0].top;
    ctx.save();
    ctx.strokeStyle = '#f01020';
    ctx.lineWidth = 4;
    ctx.beginPath();
    ctx.moveTo(topArea.left + 18, topArea.bottom + 8);
    ctx.lineTo(zx1, zy);
    ctx.moveTo(zx2, zy);
    ctx.lineTo(topArea.right, topArea.bottom + 5);
    ctx.stroke();
    ctx.restore();

    ctx.save();
    ctx.font = `${FS}px ${FONT}`;
    ctx.fillStyle = '#000';
    ctx.textAlign = 'center';
    ctx.textBaseline = 'middle';
    ctx.translate(55, 990);
    ctx.rotate(-Math.PI / 2);
    ctx.fillText(AXIS_TITLE_Y, 0, 0);
    ctx.restore();

    return () => {
      charts.forEach((c) => c.destroy());
    };
  }, []);

  const cStyle = (top: number): React.CSSProperties => ({ position: 'absolute', left: 0, top });

  return (
    <div style={{ position: 'absolute', left: 0, top: 0, width: W, height: H, background: BG, overflow: 'hidden' }}>
      <canvas ref={topRef} width={W} height={TOP_BOX.height} style={cStyle(TOP_BOX.top)} />
      <canvas ref={p1Ref} width={W} height={PANEL_BOXES[0].height} style={cStyle(PANEL_BOXES[0].top)} />
      <canvas ref={p2Ref} width={W} height={PANEL_BOXES[1].height} style={cStyle(PANEL_BOXES[1].top)} />
      <canvas ref={p3Ref} width={W} height={PANEL_BOXES[2].height} style={cStyle(PANEL_BOXES[2].top)} />
      <canvas ref={p4Ref} width={W} height={PANEL_BOXES[3].height} style={cStyle(PANEL_BOXES[3].top)} />
      <canvas
        ref={ovRef}
        width={W}
        height={H}
        style={{ position: 'absolute', left: 0, top: 0, pointerEvents: 'none' }}
      />
    </div>
  );
}
